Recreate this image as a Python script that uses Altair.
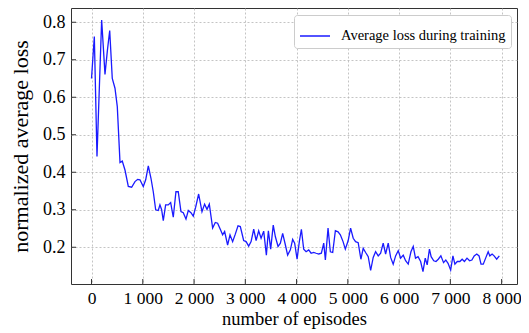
import altair as alt
import pandas as pd

# ---- data ----
episodes_a = [0, 55, 107, 198, 263, 310, 355, 405, 458, 503, 556, 600, 653]
loss_a = [0.65, 0.762, 0.442, 0.806, 0.661, 0.725, 0.778, 0.65, 0.624, 0.575, 0.426, 0.43, 0.406]

episodes_b = [718, 783, 848, 900, 945, 1010, 1057, 1108, 1160, 1205, 1252, 1302, 1335, 1368,
              1400, 1446, 1497, 1544, 1595, 1647, 1692, 1745, 1790, 1843, 1888, 1940, 1985, 2032]
loss_b = [0.362, 0.36, 0.375, 0.381, 0.38, 0.362, 0.38, 0.417, 0.384, 0.348, 0.30, 0.298, 0.313, 0.30,
          0.271, 0.313, 0.313, 0.319, 0.28, 0.348, 0.348, 0.295, 0.292, 0.275, 0.298, 0.292, 0.283, 0.307]

episodes_c = [2090, 2155, 2206, 2253, 2298, 2363, 2415, 2460, 2512, 2558, 2597, 2655, 2702, 2753,
              2805, 2858, 2903, 2968, 3015, 3066, 3113, 3164, 3211, 3261, 3308, 3359, 3411]
loss_c = [0.342, 0.295, 0.315, 0.301, 0.315, 0.251, 0.266, 0.264, 0.248, 0.233, 0.242, 0.206, 0.233, 0.215,
          0.235, 0.257, 0.255, 0.218, 0.215, 0.203, 0.215, 0.248, 0.218, 0.244, 0.224, 0.243, 0.179]

episodes_d = [3450, 3495, 3545, 3587, 3639, 3684, 3729, 3782, 3826, 3879, 3924, 3963, 4010, 4054,
              4094, 4139, 4186, 4237, 4284, 4334, 4381, 4432, 4484, 4530, 4562, 4614, 4659, 4705,
              4757, 4809, 4854, 4907, 4951]
loss_d = [0.244, 0.195, 0.259, 0.228, 0.202, 0.211, 0.237, 0.206, 0.179, 0.193, 0.221, 0.211, 0.168, 0.215,
          0.248, 0.195, 0.188, 0.193, 0.184, 0.186, 0.184, 0.182, 0.184, 0.211, 0.166, 0.251, 0.188, 0.186,
          0.244, 0.241, 0.233, 0.215, 0.195]

episodes_e = [5007, 5054, 5105, 5151, 5202, 5255, 5300, 5347, 5398, 5445, 5495, 5542, 5593, 5640,
              5690, 5737, 5788, 5835, 5885, 5932, 5983, 6030, 6081, 6127, 6178, 6231, 6276]
loss_e = [0.218, 0.251, 0.224, 0.215, 0.212, 0.168, 0.197, 0.186, 0.175, 0.138, 0.173, 0.188, 0.177, 0.184,
          0.211, 0.182, 0.211, 0.173, 0.155, 0.177, 0.191, 0.171, 0.179, 0.164, 0.155, 0.188, 0.202]

episodes_f = [6320, 6370, 6420, 6466, 6510, 6548, 6592, 6625, 6676, 6720, 6764, 6815, 6867, 6911,
              6955, 7006, 7050, 7089, 7135, 7185, 7230, 7275, 7325, 7375, 7420, 7465, 7515, 7560,
              7598, 7642, 7694, 7738, 7770, 7815, 7853, 7904, 7955]
loss_f = [0.171, 0.175, 0.162, 0.135, 0.171, 0.153, 0.195, 0.175, 0.164, 0.162, 0.168, 0.177, 0.159, 0.166,
          0.157, 0.139, 0.177, 0.155, 0.162, 0.162, 0.168, 0.162, 0.171, 0.164, 0.166, 0.177, 0.182, 0.177,
          0.155, 0.155, 0.173, 0.188, 0.177, 0.182, 0.177, 0.168, 0.177]

series_name = "Average loss during training"
x_ticks = [0, 1000, 2000, 3000, 4000, 5000, 6000, 7000, 8000]
y_ticks = [0.2, 0.3, 0.4, 0.5, 0.6, 0.7, 0.8]

episodes = episodes_a + episodes_b + episodes_c + episodes_d + episodes_e + episodes_f
loss = loss_a + loss_b + loss_c + loss_d + loss_e + loss_f
df = pd.DataFrame({"episode": episodes, "loss": loss, "series": series_name})
xt_df = pd.DataFrame({"episode": x_ticks})
yt_df = pd.DataFrame({"loss": y_ticks})

W, H = 446, 276
FONT = "'Liberation Serif', 'Times New Roman', Times, serif"
FRAME = "#333333"

xscale = alt.Scale(domain=[-400, 8300], nice=False, zero=False)
yscale = alt.Scale(domain=[0.102, 0.838], nice=False, zero=False)

line = alt.Chart(df).mark_line(strokeWidth=1.3, clip=True).encode(
    x=alt.X("episode:Q", scale=xscale,
            axis=alt.Axis(title="number of episodes", values=x_ticks,
                          labelExpr="replace(format(datum.value, ','), ',', ' ')",
                          ticks=False, domain=False, labelPadding=5,
                          labelFontSize=17.5, titleFontSize=18.5,
                          titleY=40, titleBaseline="alphabetic")),
    y=alt.Y("loss:Q", scale=yscale,
            axis=alt.Axis(title="normalized average loss", values=y_ticks, format=".1f",
                          ticks=False, domain=False, labelPadding=6,
                          labelFontSize=18, titleFontSize=22,
                          titleX=-44, titleBaseline="alphabetic")),
    color=alt.Color("series:N",
                    scale=alt.Scale(domain=[series_name], range=["#1a1aff"]),
                    legend=alt.Legend(title=None, orient="none", legendX=223, legendY=7,
                                      symbolType="stroke", symbolSize=900, symbolStrokeWidth=1.5,
                                      labelFont=FONT, labelFontSize=14.5, labelColor="#000000",
                                      labelOffset=10, labelLimit=400, padding=5,
                                      strokeColor="#cccccc", fillColor="white", cornerRadius=3)),
)

xticks = alt.Chart(xt_df).mark_rule(color=FRAME, strokeWidth=1).encode(
    x=alt.X("episode:Q", scale=xscale), y=alt.value(H), y2=alt.value(H - 5)
)
yticks = alt.Chart(yt_df).mark_rule(color=FRAME, strokeWidth=1).encode(
    y=alt.Y("loss:Q", scale=yscale), x=alt.value(0), x2=alt.value(5)
)

chart = alt.layer(line, xticks, yticks).properties(
    width=W, height=H,
    autosize=alt.AutoSizeParams(type="none"),
    padding={"left": 63, "top": 0, "right": 4, "bottom": 47},
).configure_view(
    stroke=FRAME, strokeWidth=1
).configure_axis(
    grid=True, gridColor="#b5b5b5", gridDash=[2, 2], gridWidth=0.8,
    labelFont=FONT, labelColor="#000000",
    titleFont=FONT, titleFontWeight="normal", titleColor="#000000",
).configure_legend(
    labelFont=FONT
)

chart.save("out.html", embed_options={"renderer": "svg", "actions": False})
